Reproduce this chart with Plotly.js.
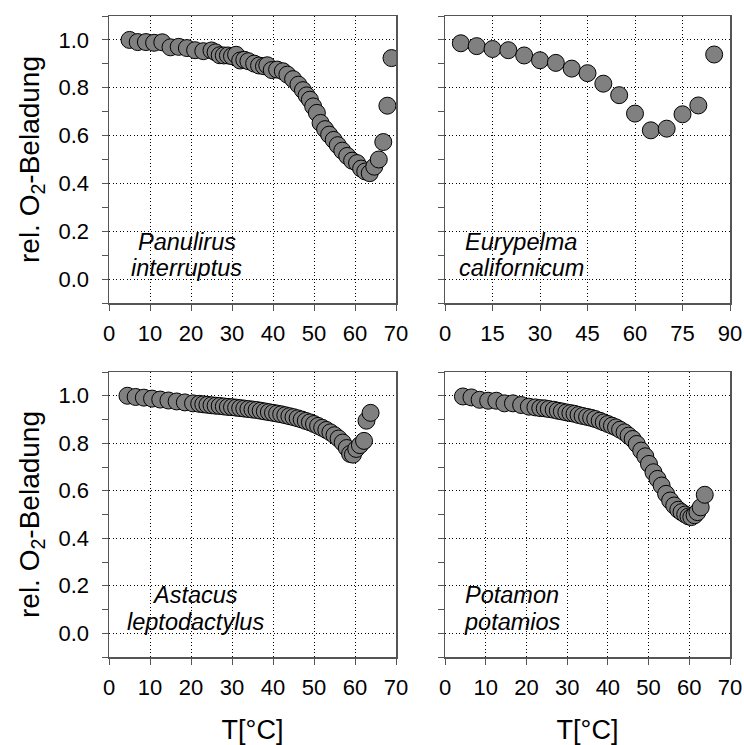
<!DOCTYPE html>
<html>
<head>
<meta charset="utf-8">
<script src="https://cdn.plot.ly/plotly-3.0.1.min.js"></script>
<style>
  html, body { margin: 0; padding: 0; background: #ffffff; }
  #chart { width: 744px; height: 745px; }
</style>
</head>
<body>
<div id="chart"></div>
<script>
// Oxygen saturation of haemocyanin as a function of temperature, four species

// Panulirus interruptus
const tempPanulirus = [5, 7, 9, 11, 13, 15, 17, 19, 21, 23, 25, 26, 27, 28, 29, 30, 31, 32, 33, 34,
  35.4, 36.6, 37.8, 38.6, 39.7, 41, 42.4, 43.5, 44.9, 46.2, 47.3, 48.2, 49, 49.8, 50.7, 51.6,
  52.7, 53.7, 54.8, 55.8, 56.9, 58.1, 59.3, 60.5, 61.5, 62.5, 63.6, 64.7, 65.8, 66.9, 67.9, 68.9];
const o2Panulirus = [1.0, 0.991, 0.991, 0.988, 0.99, 0.969, 0.971, 0.966, 0.957, 0.953, 0.956, 0.948,
  0.936, 0.935, 0.935, 0.932, 0.938, 0.914, 0.917, 0.911, 0.901, 0.893, 0.89, 0.894, 0.874, 0.876,
  0.869, 0.855, 0.836, 0.813, 0.79, 0.768, 0.75, 0.722, 0.695, 0.653, 0.627, 0.604, 0.582, 0.56,
  0.537, 0.515, 0.495, 0.485, 0.462, 0.45, 0.443, 0.47, 0.5, 0.573, 0.725, 0.924];

// Eurypelma californicum
const tempEurypelma = [5, 10, 15, 20, 25, 30, 35, 40, 45, 50, 55, 60, 65, 70, 75, 80, 85];
const o2Eurypelma = [0.986, 0.974, 0.962, 0.957, 0.935, 0.915, 0.904, 0.88, 0.861, 0.817, 0.769,
  0.692, 0.622, 0.629, 0.689, 0.726, 0.939];

// Astacus leptodactylus
const tempAstacus = [4.5, 6.5, 8.5, 10.5, 12.5, 14.5, 16.5, 18.5, 20.5, 22, 23, 24, 25, 26, 27, 28,
  29, 30, 31, 32, 33, 34, 35, 36, 37, 38, 39, 40, 41, 42, 43, 44, 45, 46, 47, 48, 49, 50, 51, 52,
  53, 54, 55, 56, 57, 58, 58.8, 59.5, 60.3, 61.2, 62.2, 62.8, 63.8];
const o2Astacus = [1.0, 0.995, 0.992, 0.988, 0.984, 0.98, 0.976, 0.972, 0.968, 0.966, 0.964, 0.962,
  0.96, 0.958, 0.957, 0.955, 0.953, 0.952, 0.95, 0.948, 0.946, 0.944, 0.942, 0.94, 0.937, 0.934,
  0.931, 0.928, 0.925, 0.922, 0.918, 0.914, 0.91, 0.905, 0.9, 0.894, 0.888, 0.881, 0.873, 0.865,
  0.856, 0.846, 0.834, 0.82, 0.803, 0.78, 0.755, 0.752, 0.776, 0.792, 0.81, 0.895, 0.928];

// Potamon potamios
const tempPotamon = [4.4, 6.5, 8.5, 10.6, 12.6, 14.6, 16.7, 18.7, 20.6, 22.2, 23.4, 24.5, 25.5, 26.7,
  27.7, 28.7, 29.8, 30.8, 31.8, 32.8, 33.8, 34.9, 35.9, 36.9, 38, 39, 40, 41, 42, 43, 44.1, 45.1,
  46.1, 47.1, 48.2, 49.2, 50.1, 51.2, 52.2, 53.2, 54.3, 55.3, 56.3, 57.3, 58.1, 59, 59.8, 60.5,
  61.3, 62, 62.8, 63.8];
const o2Potamon = [0.997, 0.993, 0.983, 0.979, 0.979, 0.968, 0.968, 0.961, 0.954, 0.951, 0.948, 0.947,
  0.944, 0.941, 0.937, 0.934, 0.93, 0.927, 0.924, 0.919, 0.915, 0.911, 0.907, 0.902, 0.895, 0.888,
  0.881, 0.874, 0.867, 0.857, 0.846, 0.832, 0.818, 0.797, 0.769, 0.745, 0.713, 0.678, 0.65, 0.622,
  0.587, 0.559, 0.538, 0.52, 0.51, 0.5, 0.492, 0.489, 0.497, 0.51, 0.53, 0.583];

// Species labels (two lines each) and label anchor positions in data units
const speciesLines = [
  ['Panulirus', 'interruptus'],
  ['Eurypelma', 'californicum'],
  ['Astacus', 'leptodactylus'],
  ['Potamon', 'potamios']
];
const labelX = [19, 24, 21, 16.5];
const labelY = [[0.154, 0.047], [0.154, 0.047], [0.161, 0.049], [0.161, 0.049]];

const yTitle = 'rel. O<sub>2</sub>-Beladung';
const xTitle = 'T[°C]';

const FONT = '"Liberation Sans", Arial, sans-serif';
const AXIS_COLOR = '#555555';

const marker = {
  size: 17,
  color: '#808080',
  line: { color: '#000000', width: 1 }
};

function scatter(x, y, n) {
  const suffix = n === 1 ? '' : String(n);
  return {
    type: 'scatter', mode: 'markers', x: x, y: y,
    xaxis: 'x' + suffix, yaxis: 'y' + suffix,
    marker: marker, showlegend: false, hoverinfo: 'x+y'
  };
}

const data = [
  scatter(tempPanulirus, o2Panulirus, 1),
  scatter(tempEurypelma, o2Eurypelma, 2),
  scatter(tempAstacus, o2Astacus, 3),
  scatter(tempPotamon, o2Potamon, 4)
];

function xAxis(domain, anchor, maxT, step, withTitle) {
  const ax = {
    domain: domain, anchor: anchor, range: [0, maxT],
    tick0: 0, dtick: step, ticks: 'outside', ticklen: 6, tickwidth: 1, tickcolor: AXIS_COLOR,
    showline: true, linecolor: AXIS_COLOR, linewidth: 1.5, mirror: true,
    showgrid: true, gridcolor: '#000000', gridwidth: 1, griddash: '1px,2.5px',
    zeroline: false, fixedrange: true,
    tickfont: { family: FONT, size: 22, color: '#000000' },
    ticklabelstandoff: 4
  };
  if (withTitle) {
    ax.title = { text: xTitle, font: { family: FONT, size: 27, color: '#000000' }, standoff: 26 };
  }
  return ax;
}

function yAxis(domain, anchor, withLabels) {
  const ax = {
    domain: domain, anchor: anchor, range: [-0.1, 1.1],
    tick0: 0, dtick: 0.2, tickformat: '.1f',
    ticks: 'outside', ticklen: 6, tickwidth: 1, tickcolor: AXIS_COLOR,
    minor: { dtick: 0.1, ticks: 'outside', ticklen: 6, tickwidth: 1, tickcolor: AXIS_COLOR, showgrid: false },
    showline: true, linecolor: AXIS_COLOR, linewidth: 1.5, mirror: true,
    showgrid: true, gridcolor: '#000000', gridwidth: 1, griddash: '1px,2.5px',
    zeroline: false, fixedrange: true,
    showticklabels: withLabels,
    tickfont: { family: FONT, size: 22, color: '#000000' },
    ticklabelstandoff: 8
  };
  if (withLabels) {
    ax.title = { text: yTitle, font: { family: FONT, size: 28, color: '#000000' }, standoff: 10 };
  }
  return ax;
}

const W = 744, H = 745;
const colL = [109 / W, 396 / W];
const colR = [445 / W, 730 / W];
const rowT = [1 - 303 / H, 1 - 16 / H];
const rowB = [1 - 657 / H, 1 - 372 / H];

const annotations = [];
speciesLines.forEach(function (lines, i) {
  const suffix = i === 0 ? '' : String(i + 1);
  lines.forEach(function (line, j) {
    annotations.push({
      xref: 'x' + suffix, yref: 'y' + suffix,
      x: labelX[i], y: labelY[i][j],
      text: '<i>' + line + '</i>',
      showarrow: false, xanchor: 'center', yanchor: 'middle',
      font: { family: FONT, size: 23.5, color: '#000000' }
    });
  });
});

const layout = {
  width: W, height: H,
  margin: { l: 0, r: 0, t: 0, b: 0 },
  paper_bgcolor: '#ffffff', plot_bgcolor: '#ffffff',
  font: { family: FONT, color: '#000000' },
  xaxis: xAxis(colL, 'y', 70, 10, false),
  yaxis: yAxis(rowT, 'x', true),
  xaxis2: xAxis(colR, 'y2', 90, 15, false),
  yaxis2: yAxis(rowT, 'x2', false),
  xaxis3: xAxis(colL, 'y3', 70, 10, true),
  yaxis3: yAxis(rowB, 'x3', true),
  xaxis4: xAxis(colR, 'y4', 70, 10, true),
  yaxis4: yAxis(rowB, 'x4', false),
  annotations: annotations
};

Plotly.newPlot('chart', data, layout, { displayModeBar: false, staticPlot: true });
</script>
</body>
</html>
